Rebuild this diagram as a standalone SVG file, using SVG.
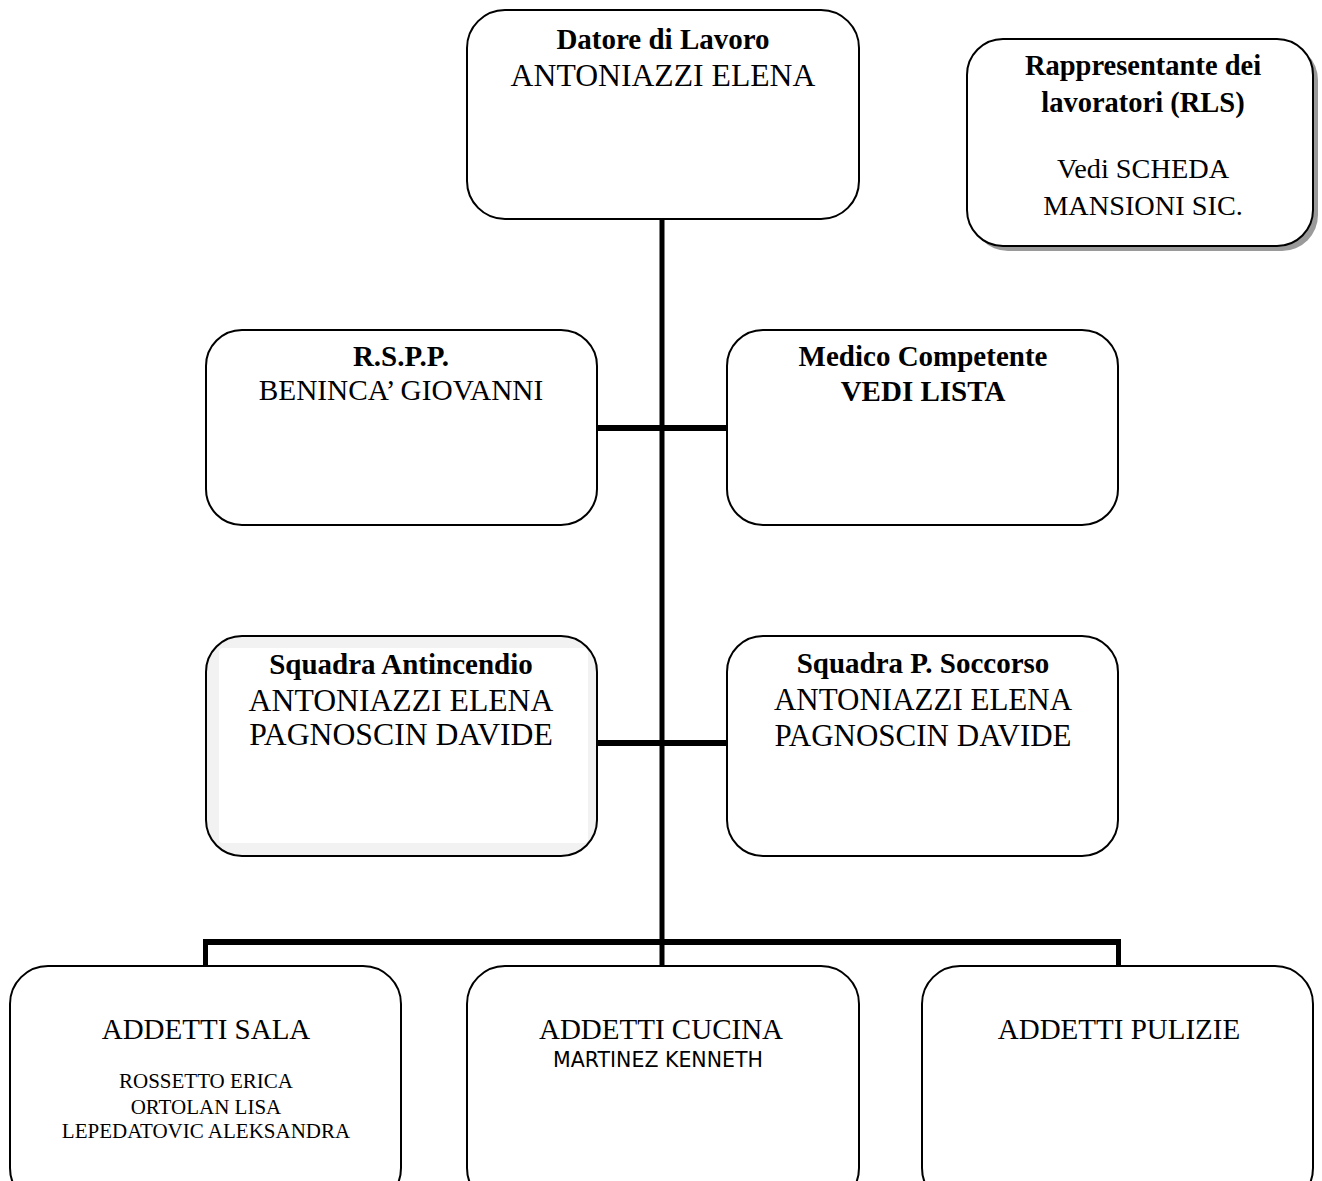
<svg xmlns="http://www.w3.org/2000/svg" width="1322" height="1181" viewBox="0 0 1322 1181">
<defs>
<style>
.box{fill:#ffffff;stroke:#000000;stroke-width:2}
.shadow{fill:#9a9a9a;stroke:none}
.conn{stroke:#000000;fill:none;stroke-linecap:butt}
text{font-family:"Liberation Serif","Times New Roman",serif;fill:#000000;text-anchor:middle}
.b{font-weight:bold;font-size:29px}
.r{font-size:31px}
.s{font-size:21px}
.sans{font-family:"DejaVu Sans",Verdana,sans-serif;font-size:20.5px}
</style>
</defs>
<rect width="1322" height="1181" fill="#ffffff"/>

<g id="connectors">
<line class="conn" x1="662" y1="219" x2="662" y2="966" stroke-width="5"/>
<line class="conn" x1="597" y1="428" x2="727" y2="428" stroke-width="6"/>
<line class="conn" x1="597" y1="743" x2="727" y2="743" stroke-width="6"/>
<line class="conn" x1="203" y1="942" x2="1121" y2="942" stroke-width="6"/>
<line class="conn" x1="205.5" y1="939" x2="205.5" y2="966" stroke-width="5"/>
<line class="conn" x1="1118.5" y1="939" x2="1118.5" y2="966" stroke-width="5"/>
</g>

<g id="datore">
<rect class="box" x="467" y="10" width="392" height="209" rx="38" ry="38"/>
<text class="b" x="663" y="49">Datore di Lavoro</text>
<text class="r" x="663" y="86" style="font-size:31.7px">ANTONIAZZI ELENA</text>
</g>

<g id="rls">
<rect class="shadow" x="972" y="44" width="346" height="207" rx="36" ry="36"/>
<rect class="box" x="967" y="39" width="346" height="207" rx="36" ry="36" stroke-width="1.5"/>
<text class="b" x="1143" y="75" style="font-size:28.5px">Rappresentante dei</text>
<text class="b" x="1143" y="112" style="font-size:28.5px">lavoratori (RLS)</text>
<text class="r" x="1143" y="178" style="font-size:28.3px">Vedi SCHEDA</text>
<text class="r" x="1143" y="215" style="font-size:28.3px">MANSIONI SIC.</text>
</g>

<g id="rspp">
<rect class="box" x="206" y="330" width="391" height="195" rx="36" ry="36"/>
<text class="b" x="401" y="366">R.S.P.P.</text>
<text class="r" x="401" y="400" style="font-size:29.3px">BENINCA’ GIOVANNI</text>
</g>

<g id="medico">
<rect class="box" x="727" y="330" width="391" height="195" rx="36" ry="36"/>
<text class="b" x="923" y="366">Medico Competente</text>
<text class="b" x="923" y="401">VEDI LISTA</text>
</g>

<g id="antincendio">
<rect x="206" y="636" width="391" height="220" rx="36" ry="36" fill="#f2f2f2"/>
<rect x="219" y="648" width="369" height="195" rx="4" ry="4" fill="#ffffff"/>
<rect x="206" y="636" width="391" height="220" rx="36" ry="36" fill="none" stroke="#000000" stroke-width="2"/>
<text class="b" x="401" y="674">Squadra Antincendio</text>
<text class="r" x="401" y="711" style="font-size:31.7px">ANTONIAZZI ELENA</text>
<text class="r" x="401" y="745" style="font-size:31.7px">PAGNOSCIN DAVIDE</text>
</g>

<g id="soccorso">
<rect class="box" x="727" y="636" width="391" height="220" rx="36" ry="36"/>
<text class="b" x="923" y="673">Squadra P. Soccorso</text>
<text class="r" x="923" y="710">ANTONIAZZI ELENA</text>
<text class="r" x="923" y="746">PAGNOSCIN DAVIDE</text>
</g>

<g id="sala">
<rect class="box" x="10" y="966" width="391" height="240" rx="38" ry="38"/>
<text class="r" x="206" y="1039" style="font-size:29px">ADDETTI SALA</text>
<text class="s" x="206" y="1088">ROSSETTO ERICA</text>
<text class="s" x="206" y="1114">ORTOLAN LISA</text>
<text class="s" x="206" y="1138">LEPEDATOVIC ALEKSANDRA</text>
</g>

<g id="cucina">
<rect class="box" x="467" y="966" width="392" height="240" rx="38" ry="38"/>
<text class="r" x="661" y="1039" style="font-size:29px">ADDETTI CUCINA</text>
<text class="sans" x="658" y="1067">MARTINEZ KENNETH</text>
</g>

<g id="pulizie">
<rect class="box" x="922" y="966" width="391" height="240" rx="38" ry="38"/>
<text class="r" x="1119" y="1039" style="font-size:29px">ADDETTI PULIZIE</text>
</g>
</svg>
